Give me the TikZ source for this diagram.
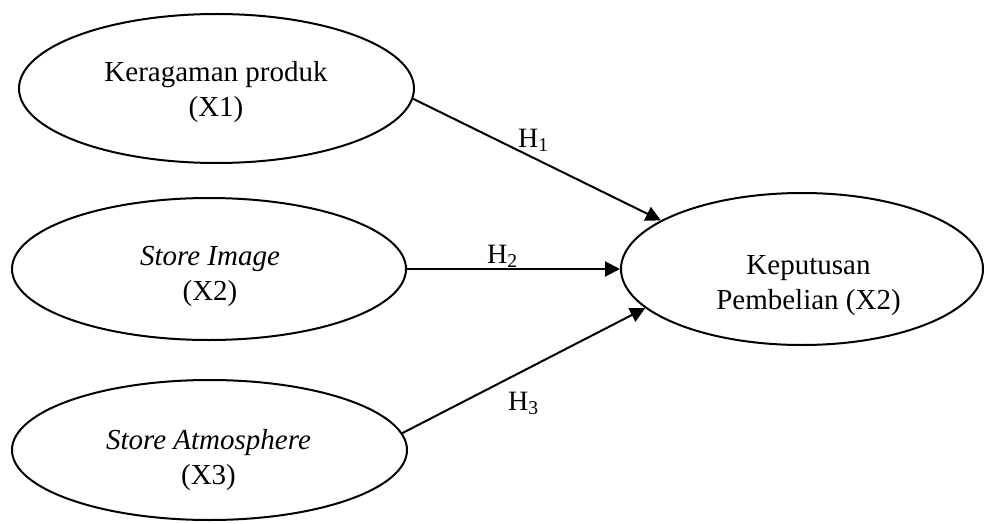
\documentclass[tikz,border=0pt]{standalone}
\usepackage{fontspec}
\setmainfont{Liberation Serif}
\usetikzlibrary{shapes.geometric,arrows.meta}
\begin{document}
\begin{tikzpicture}[x=1pt,y=-1pt,
  varbox/.style={draw, line width=2pt, ellipse, inner sep=0pt},
  vartext/.style={align=center, inner sep=0pt, font=\fontsize{29}{35}\selectfont},
  hlabel/.style={inner sep=0pt, font=\fontsize{28}{34}\selectfont},
  link/.style={line width=2pt, -{Triangle[length=15pt,width=15pt]}}]
\useasboundingbox (0,0) rectangle (984,524);
\node[varbox, minimum width=395pt, minimum height=149pt] (e1) at (216.5,88.5) {};
\node[varbox, minimum width=394pt, minimum height=142pt] (e2) at (209,269) {};
\node[varbox, minimum width=395pt, minimum height=140pt] (e3) at (209.5,450) {};
\node[varbox, minimum width=362pt, minimum height=152pt] (e4) at (802,269) {};
\node[vartext] (t1) at (216,92.5) {Keragaman produk\\(X1)};
\node[vartext] (t2) at (210,276.5) {\textit{Store Image}\\(X2)};
\node[vartext] (t3) at (208.5,460) {\textit{Store Atmosphere}\\(X3)};
\node[vartext] (t4) at (808.5,286) {Keputusan\\Pembelian (X2)};
\draw[link] (e1.-3.3) -- (e4.161.8);
\draw[link] (e2.0) -- (e4.180);
\draw[link] (e3.5.5) -- (e4.194.1);
\node[hlabel, anchor=base west] (h1) at (518,147) {H\textsubscript{1}};
\node[hlabel, anchor=base west] (h2) at (487,263) {H\textsubscript{2}};
\node[hlabel, anchor=base west] (h3) at (508,410) {H\textsubscript{3}};
\end{tikzpicture}
\end{document}
